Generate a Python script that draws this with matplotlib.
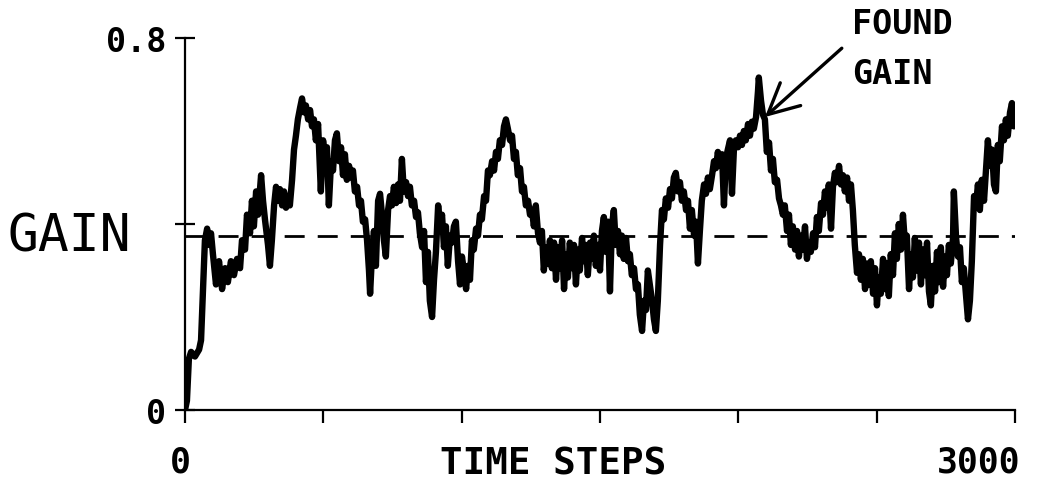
import numpy as np
import matplotlib
matplotlib.use("Agg")
import matplotlib.pyplot as plt

# ---- data (time step, gain) ----
steps_a = [0, 7, 14, 22, 36, 51, 58, 65, 72, 80,
           87, 94, 101, 112, 123, 134, 145, 155, 166, 177,
           188, 199, 206, 217, 224, 235, 242, 249, 257, 264,
           275, 282, 289, 300, 307, 314, 322]
gain_a = [0.00, 0.02, 0.11, 0.125, 0.115, 0.13, 0.15, 0.26, 0.365, 0.39,
          0.355, 0.38, 0.335, 0.27, 0.32, 0.26, 0.305, 0.275, 0.32, 0.29,
          0.325, 0.305, 0.365, 0.345, 0.42, 0.38, 0.45, 0.395, 0.47, 0.42,
          0.505, 0.45, 0.41, 0.355, 0.31, 0.365, 0.44]

steps_b = [329, 336, 343, 351, 358, 365, 372, 379, 387, 394,
           401, 408, 416, 423, 430, 437, 445, 452, 459, 466,
           473, 481, 488, 491, 499, 506, 513, 520, 528, 535,
           542, 549, 557, 564, 571, 578, 585, 593, 600, 607,
           614, 622, 629, 636, 643, 651, 658, 665, 669, 676,
           683, 690, 698, 705, 712, 719, 726, 734, 741, 748,
           755, 763, 770, 777, 784, 791, 799, 806, 813, 820,
           828, 835, 842, 849, 857, 864, 871, 878, 885, 893,
           900, 907, 915, 922, 929, 936, 943, 950, 958, 965,
           972, 979, 987, 994, 1001, 1008, 1016, 1023, 1030, 1037,
           1044, 1052, 1059, 1066, 1073, 1081, 1088, 1095, 1102, 1110,
           1117, 1124, 1131, 1138, 1146, 1153, 1160, 1167, 1175, 1182,
           1189, 1196, 1203, 1211, 1218, 1225, 1232, 1240, 1247, 1254,
           1261, 1268, 1276, 1283, 1290, 1297, 1305, 1312, 1319]
gain_b = [0.48, 0.45, 0.475, 0.44, 0.47, 0.435, 0.46, 0.44, 0.495, 0.56,
          0.59, 0.625, 0.65, 0.67, 0.64, 0.655, 0.625, 0.645, 0.61, 0.625,
          0.58, 0.615, 0.515, 0.47, 0.58, 0.545, 0.565, 0.44, 0.535, 0.515,
          0.58, 0.595, 0.535, 0.565, 0.505, 0.55, 0.495, 0.525, 0.5, 0.515,
          0.47, 0.48, 0.44, 0.45, 0.405, 0.41, 0.365, 0.3, 0.25, 0.335,
          0.385, 0.31, 0.45, 0.465, 0.42, 0.365, 0.33, 0.43, 0.46, 0.44,
          0.48, 0.445, 0.485, 0.45, 0.54, 0.47, 0.49, 0.46, 0.48, 0.44,
          0.45, 0.415, 0.425, 0.38, 0.35, 0.385, 0.275, 0.34, 0.235, 0.2,
          0.28, 0.34, 0.44, 0.395, 0.42, 0.35, 0.395, 0.31, 0.375, 0.36,
          0.395, 0.405, 0.32, 0.27, 0.33, 0.3, 0.26, 0.31, 0.28, 0.365,
          0.345, 0.39, 0.375, 0.42, 0.41, 0.46, 0.45, 0.515, 0.505, 0.535,
          0.515, 0.555, 0.54, 0.58, 0.57, 0.61, 0.625, 0.605, 0.58, 0.59,
          0.54, 0.555, 0.505, 0.52, 0.47, 0.48, 0.44, 0.45, 0.42, 0.43,
          0.395, 0.44, 0.38, 0.36, 0.385, 0.3, 0.35, 0.315, 0.365]

steps_c = [1326, 1334, 1341, 1348, 1355, 1363, 1370, 1377, 1384, 1391,
           1399, 1406, 1413, 1420, 1427, 1435, 1442, 1449, 1456, 1464,
           1471, 1478, 1485, 1493, 1500, 1507, 1514, 1521, 1529, 1536,
           1543, 1550, 1557, 1565, 1572, 1579, 1586, 1594, 1601, 1608,
           1615, 1623, 1630, 1637, 1644, 1652, 1659, 1666, 1673, 1680,
           1688, 1695, 1702, 1709, 1717, 1724, 1731, 1738, 1746, 1753,
           1760, 1767, 1774, 1782, 1789]
gain_c = [0.305, 0.36, 0.28, 0.35, 0.305, 0.365, 0.26, 0.335, 0.285, 0.36,
          0.305, 0.355, 0.27, 0.345, 0.3, 0.37, 0.32, 0.355, 0.29, 0.36,
          0.325, 0.375, 0.31, 0.355, 0.3, 0.385, 0.415, 0.34, 0.405, 0.255,
          0.395, 0.43, 0.355, 0.385, 0.335, 0.375, 0.325, 0.37, 0.32, 0.335,
          0.29, 0.305, 0.26, 0.27, 0.205, 0.17, 0.235, 0.215, 0.3, 0.27,
          0.235, 0.195, 0.17, 0.235, 0.355, 0.43, 0.41, 0.455, 0.435, 0.475,
          0.455, 0.5, 0.51, 0.47, 0.49]

steps_d = [1796, 1803, 1811, 1818, 1825, 1832, 1840, 1847, 1854, 1861,
           1868, 1876, 1883, 1890, 1897, 1905, 1912, 1919, 1926, 1933,
           1941, 1948, 1955, 1962, 1970, 1977, 1984, 1991, 1999, 2006,
           2013, 2020, 2027, 2035, 2042, 2049, 2056, 2064, 2071, 2074,
           2082, 2089, 2096, 2103, 2111, 2118, 2125, 2132, 2140, 2147,
           2154, 2161, 2168, 2176, 2183, 2190, 2197, 2205, 2212, 2219,
           2226, 2233, 2241, 2248, 2255]
gain_d = [0.45, 0.47, 0.43, 0.45, 0.39, 0.43, 0.375, 0.405, 0.315, 0.385,
          0.45, 0.485, 0.465, 0.5, 0.475, 0.505, 0.535, 0.52, 0.555, 0.525,
          0.55, 0.44, 0.54, 0.56, 0.58, 0.465, 0.56, 0.58, 0.565, 0.59,
          0.57, 0.6, 0.58, 0.615, 0.59, 0.62, 0.605, 0.63, 0.685, 0.715,
          0.665, 0.635, 0.625, 0.555, 0.575, 0.515, 0.54, 0.49, 0.495, 0.455,
          0.44, 0.42, 0.44, 0.385, 0.42, 0.355, 0.395, 0.345, 0.385, 0.33,
          0.375, 0.345, 0.395, 0.325, 0.36]

steps_e = [2262, 2270, 2277, 2284, 2291, 2299, 2306, 2313, 2320, 2327,
           2335, 2342, 2349, 2356, 2364, 2371, 2378, 2385, 2393, 2400,
           2407, 2414, 2421, 2429, 2436, 2443, 2450, 2458, 2465, 2472,
           2479, 2487, 2494, 2501, 2508, 2515, 2523, 2530, 2537, 2544,
           2551, 2559, 2566, 2573, 2580, 2588, 2595, 2602, 2609, 2617,
           2624, 2631, 2638, 2645, 2653, 2660, 2667, 2674, 2682, 2689,
           2696, 2703, 2711, 2718, 2725, 2732, 2740, 2747, 2754, 2761,
           2768, 2776, 2779, 2787, 2794, 2801, 2808, 2815, 2823, 2830,
           2837, 2844, 2852, 2859, 2866, 2873, 2880, 2888, 2895, 2902,
           2909, 2917, 2924, 2931, 2938, 2945, 2953, 2960, 2967, 2974,
           2982, 2989, 2996, 3000]
gain_e = [0.34, 0.38, 0.35, 0.415, 0.385, 0.445, 0.42, 0.47, 0.435, 0.485,
          0.39, 0.48, 0.51, 0.49, 0.525, 0.485, 0.505, 0.47, 0.5, 0.45,
          0.485, 0.43, 0.355, 0.295, 0.335, 0.28, 0.325, 0.26, 0.315, 0.27,
          0.32, 0.25, 0.305, 0.225, 0.285, 0.25, 0.325, 0.26, 0.315, 0.245,
          0.335, 0.29, 0.38, 0.325, 0.4, 0.345, 0.42, 0.36, 0.375, 0.26,
          0.335, 0.285, 0.37, 0.3, 0.36, 0.27, 0.345, 0.29, 0.36, 0.255,
          0.225, 0.31, 0.255, 0.34, 0.275, 0.35, 0.265, 0.33, 0.29, 0.355,
          0.315, 0.37, 0.47, 0.37, 0.33, 0.35, 0.275, 0.305, 0.245, 0.195,
          0.235, 0.32, 0.46, 0.44, 0.485, 0.43, 0.495, 0.45, 0.515, 0.58,
          0.525, 0.56, 0.485, 0.47, 0.57, 0.535, 0.61, 0.58, 0.625, 0.59,
          0.64, 0.66, 0.61, 0.635]

reference_gain = 0.375          # dashed line
found_gain_step = 2096
found_gain_value = 0.63
label_step = 2374
label_value = 0.778
x_ticks = [0, 500, 1000, 1500, 2000, 2500, 3000]
y_ticks = [0.0, 0.4, 0.8]

FONT = ["DejaVu Sans Mono", "DejaVu Sans"]

time_steps = np.concatenate([steps_a, steps_b, steps_c, steps_d, steps_e])
gain = np.concatenate([gain_a, gain_b, gain_c, gain_d, gain_e])

W, H = 1047, 484
fig = plt.figure(figsize=(W / 100, H / 100), dpi=100)
ax = fig.add_axes([185 / W, 74 / H, 830 / W, 372 / H])

ax.plot(time_steps, gain, color="black", lw=4.6,
        solid_joinstyle="round", solid_capstyle="round")
ax.plot([0, 3000], [reference_gain, reference_gain], color="black",
        lw=2.0, dashes=[7.2, 4.7])

ax.set_xlim(0, 3000)
ax.set_ylim(0, 0.8)
for s in ["top", "right"]:
    ax.spines[s].set_visible(False)
for s in ["left", "bottom"]:
    ax.spines[s].set_linewidth(1.6)

ax.set_xticks(x_ticks)
ax.set_xticklabels([])
ax.tick_params(axis="x", direction="out", length=9, width=1.6)
ax.set_yticks(y_ticks)
ax.set_yticklabels([])
ax.tick_params(axis="y", direction="inout", length=14, width=1.6)

# axis numbers
ax.text(-18, -0.112, "0", fontsize=25, fontweight="bold", family=FONT,
        ha="center", va="center", clip_on=False)
ax.text(3018, -0.112, "3000", fontsize=25, fontweight="bold", family=FONT,
        ha="right", va="center", clip_on=False)
ax.text(1330, -0.118, "TIME STEPS", fontsize=27, fontweight="bold",
        family=FONT, ha="center", va="center", clip_on=False)
fig.text(166 / W, 1 - 43 / H, "0.8", fontsize=24, fontweight="bold",
         family=FONT, ha="right", va="center")
fig.text(166 / W, 1 - 415 / H, "0", fontsize=24, fontweight="bold",
         family=FONT, ha="right", va="center")
fig.text(8 / W, 1 - 237 / H, "GAIN", fontsize=37, family=FONT,
         ha="left", va="center")

# annotation
ax.annotate("", xy=(found_gain_step, found_gain_value),
            xytext=(label_step, label_value),
            arrowprops=dict(arrowstyle="->,head_length=1.1,head_width=0.55",
                            lw=2.4, color="black", shrinkA=0, shrinkB=0,
                            mutation_scale=20),
            annotation_clip=False)
fig.text(852 / W, 1 - 25 / H, "FOUND", fontsize=24, fontweight="bold",
         family=FONT, ha="left", va="center")
fig.text(852 / W, 1 - 74 / H, "GAIN", fontsize=24, fontweight="bold",
         family=FONT, ha="left", va="center")

fig.savefig("out.png", dpi=100)
